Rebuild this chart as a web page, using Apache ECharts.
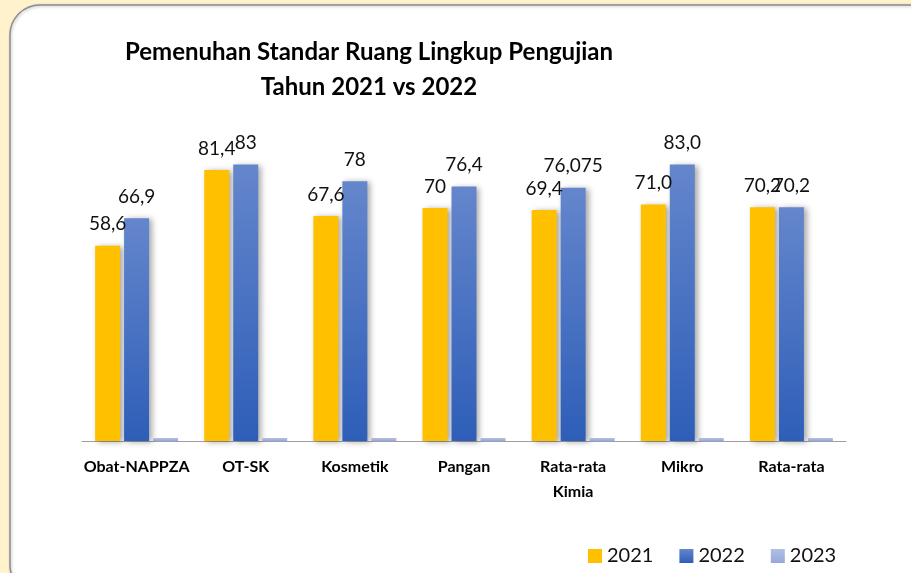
<!DOCTYPE html>
<html>
<head>
    <meta charset="utf-8">
    <title>Pemenuhan Standar Ruang Lingkup Pengujian</title>
    <script src="https://cdn.jsdelivr.net/npm/echarts@6/dist/echarts.min.js"></script>
    <style>
        html, body { margin: 0; padding: 0; background: #FFF2CC; }
    </style>
</head>
<body>
    <div id="main" style="width: 911px; height: 573px;"></div>
    <script>
        var categories = ['Obat-NAPPZA', 'OT-SK', 'Kosmetik', 'Pangan', 'Rata-rata\nKimia', 'Mikro', 'Rata-rata'];
        var values2021 = [58.6, 81.4, 67.6, 70, 69.4, 71.0, 70.2];
        var values2022 = [66.9, 83, 78, 76.4, 76.075, 83.0, 70.2];
        var values2023 = [0.9, 0.9, 0.9, 0.9, 0.9, 0.9, 0.9];
        var labels2021 = ['58,6', '81,4', '67,6', '70', '69,4', '71,0', '70,2'];
        var labels2022 = ['66,9', '83', '78', '76,4', '76,075', '83,0', '70,2'];

        var FONT = 'Lato';

        var chartDom = document.getElementById('main');
        var myChart = echarts.init(chartDom);

        function barShadow() {
            return {
                shadowBlur: 6,
                shadowOffsetX: 3,
                shadowOffsetY: 1,
                shadowColor: 'rgba(0,0,0,0.35)'
            };
        }

        function valueLabel(texts) {
            return {
                show: true,
                position: 'top',
                distance: 12,
                fontFamily: FONT,
                fontSize: 19,
                color: '#111',
                formatter: function (p) {
                    return texts[p.dataIndex];
                }
            };
        }

        var option = {
            backgroundColor: '#FFF2CC',
            animation: false,
            graphic: [
                {
                    type: 'rect',
                    z: -10,
                    shape: { x: 10, y: 5, width: 930, height: 590, r: 30 },
                    style: {
                        fill: '#fff',
                        stroke: '#8c8c8c',
                        lineWidth: 1.5,
                        shadowBlur: 3,
                        shadowOffsetX: 1,
                        shadowOffsetY: 1,
                        shadowColor: 'rgba(0,0,0,0.25)'
                    }
                }
            ],
            title: {
                text: 'Pemenuhan Standar Ruang Lingkup Pengujian\nTahun 2021 vs 2022',
                left: 364,
                top: 30,
                textAlign: 'center',
                textStyle: {
                    fontFamily: FONT,
                    fontSize: 24,
                    fontWeight: 'bold',
                    color: '#000',
                    lineHeight: 35
                }
            },
            legend: {
                left: 583,
                top: 541,
                icon: 'rect',
                itemWidth: 14,
                itemHeight: 14,
                itemGap: 26,
                textStyle: {
                    fontFamily: FONT,
                    fontSize: 20,
                    color: '#111'
                },
                data: ['2021', '2022', '2023']
            },
            grid: {
                left: 82,
                right: 65,
                top: 108,
                bottom: 132,
                containLabel: false
            },
            xAxis: {
                type: 'category',
                data: categories,
                axisTick: { show: false },
                axisLine: { lineStyle: { color: '#a0a0a0', width: 1.2 } },
                axisLabel: {
                    interval: 0,
                    margin: 13,
                    fontFamily: FONT,
                    fontSize: 16,
                    fontWeight: 'bold',
                    color: '#000',
                    lineHeight: 25
                }
            },
            yAxis: {
                type: 'value',
                min: 0,
                max: 100,
                show: false,
                splitLine: { show: false }
            },
            series: [
                {
                    name: '2021',
                    type: 'bar',
                    data: values2021,
                    barGap: '16%',
                    barCategoryGap: '24%',
                    itemStyle: Object.assign({ color: '#FFC000' }, barShadow()),
                    label: valueLabel(labels2021)
                },
                {
                    name: '2022',
                    type: 'bar',
                    data: values2022,
                    itemStyle: Object.assign({
                        color: new echarts.graphic.LinearGradient(0, 0, 0, 1, [
                            { offset: 0, color: '#6486CC' },
                            { offset: 1, color: '#2E5EB8' }
                        ])
                    }, barShadow()),
                    label: valueLabel(labels2022)
                },
                {
                    name: '2023',
                    type: 'bar',
                    data: values2023,
                    itemStyle: {
                        color: new echarts.graphic.LinearGradient(0, 0, 0, 1, [
                            { offset: 0, color: '#B1C0E6' },
                            { offset: 1, color: '#97A8D8' }
                        ])
                    }
                }
            ]
        };

        option && myChart.setOption(option);
    </script>
</body>
</html>
